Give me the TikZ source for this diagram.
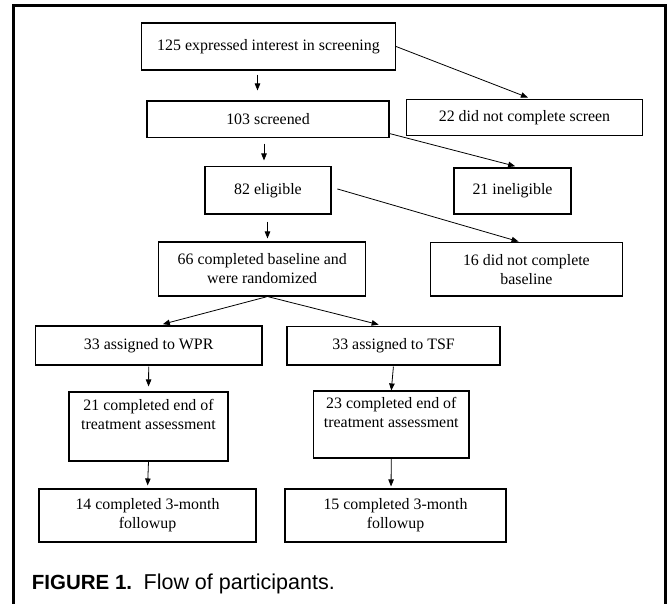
\documentclass[tikz,border=0pt]{standalone}
\usepackage{fontspec}
\setmainfont{Liberation Serif}
\newfontfamily\capfont{Liberation Sans}
\usetikzlibrary{arrows.meta}

\begin{document}
\begin{tikzpicture}[x=1pt,y=-1pt,
    >={Triangle[length=7pt,width=5.5pt]},
    every edge/.style={draw,line width=0.8pt,->}]

        \useasboundingbox (0,0) rectangle (669,604);
        \draw[line width=3pt] (13.5,604) -- (13.5,5.5) -- (665,5.5) -- (665,604);

        \begin{scope}[every node/.style={draw, line width=1.1pt, inner sep=0pt,
            align=center, font=\fontsize{15.9}{19}\selectfont}]
          \node[minimum width=254pt,  minimum height=47pt]   (1)  at (268.5,46.5)  {125 expressed interest in screening};
          \node[minimum width=242pt,  minimum height=36.5pt] (2)  at (268,119.25)  {103 screened};
          \node[minimum width=236pt,  minimum height=36.2pt] (3)  at (524.5,117.4) {22 did not complete screen};
          \node[minimum width=126pt,  minimum height=47.5pt] (4)  at (268,190.25)  {82 eligible};
          \node[minimum width=117pt,  minimum height=46pt]   (5)  at (512.5,191)   {21 ineligible};
          \node[minimum width=207pt,  minimum height=54pt]   (6)  at (262.2,269)   {66 completed baseline and\\were randomized};
          \node[minimum width=191.8pt,minimum height=53.5pt] (7)  at (526.4,269.25){16 did not complete\\baseline};
          \node[minimum width=226.6pt,minimum height=39pt]   (8)  at (148.7,345.5) {33 assigned to WPR};
          \node[minimum width=213pt,  minimum height=38.5pt] (9)  at (393.5,345.75){33 assigned to TSF};
          \node[minimum width=159pt,  minimum height=69pt]   (10) at (148.5,426.5) {21 completed end of\\treatment assessment\\[6pt]};
          \node[minimum width=155.4pt,minimum height=67pt]   (11) at (391.3,424.5) {23 completed end of\\treatment assessment\\[6pt]};
          \node[minimum width=217pt,  minimum height=53pt]   (12) at (147.5,515.5) {14 completed 3-month\\followup};
          \node[minimum width=221pt,  minimum height=53pt]   (13) at (395.5,515.5) {15 completed 3-month\\followup};
        \end{scope}

        \path ([xshift=-11pt]1.south)  edge[shorten <=4pt, shorten >=10pt] ([xshift=-10.5pt]2.north);
        \path (1.east)                 edge[shorten >=3.3pt] ([xshift=6.5pt]3.north);
        \path ([xshift=-4pt]2.south)   edge[shorten <=5.5pt, shorten >=5.5pt] ([xshift=-4pt]4.north);
        \path ([yshift=4.5pt]2.south east) edge[shorten >=5pt] ([xshift=7.5pt]5.north);
        \path ([yshift=3pt]4.east)     edge[shorten <=6pt, shorten >=1.5pt] ([xshift=-6.4pt]7.north);
        \path ([xshift=-0.5pt]4.south) edge[shorten <=7pt, shorten >=3pt] ([xshift=5.3pt]6.north);
        \path ([xshift=5.3pt]6.south)  edge[shorten <=1pt, shorten >=5pt] ([xshift=9.3pt]8.north);
        \path ([xshift=5.3pt]6.south)  edge[shorten <=1pt, shorten >=5.5pt] ([xshift=-9.5pt]9.north);
        \path (8.south)                edge[shorten <=1pt, shorten >=5pt] (10.north);
        \path (9.south)                edge[shorten <=1pt, shorten >=0pt] (11.north);
        \path (10.south)               edge[shorten >=3pt] (12.north);
        \path (11.south)               edge[shorten >=2pt] ([xshift=-4.5pt]13.north);

        \node[anchor=base west, inner sep=0pt, font=\capfont\fontsize{20.5}{24}\selectfont] (cap) at (31.7,589.3)
          {\bfseries FIGURE 1.\hspace{11.5pt}\mdseries\fontsize{21.5}{24}\selectfont Flow of participants.};

      \end{tikzpicture}
\end{document}
